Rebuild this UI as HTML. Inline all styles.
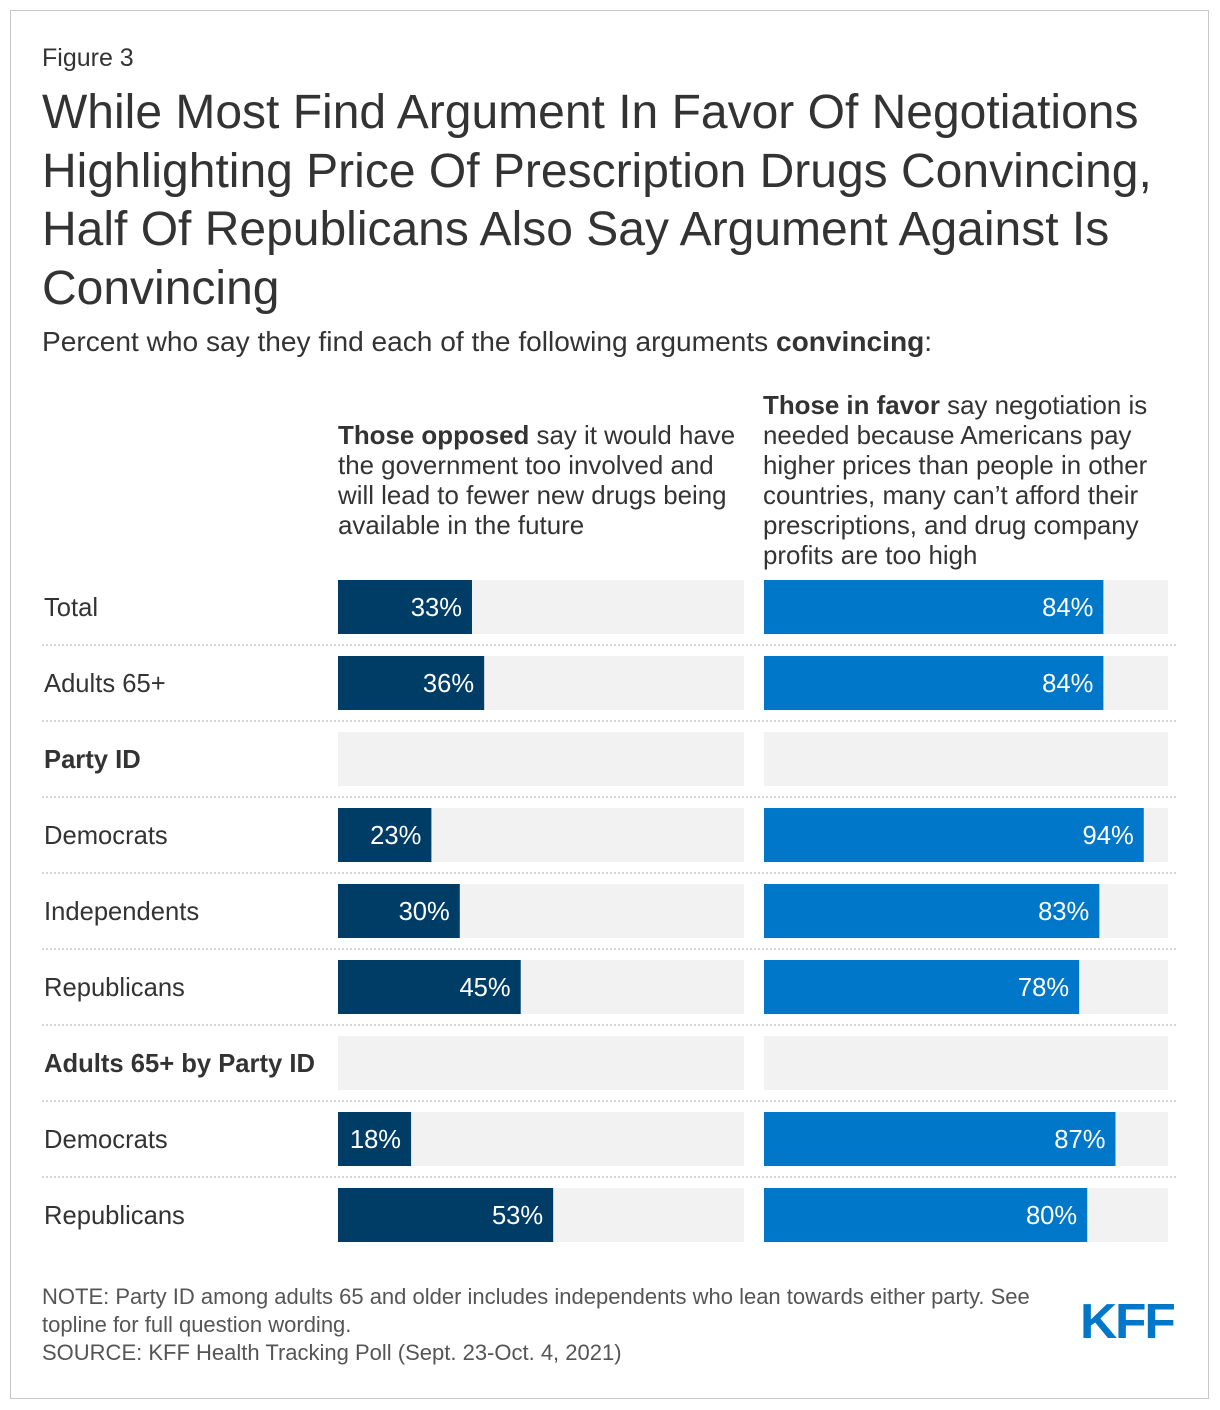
<!DOCTYPE html>
<html><head><meta charset="utf-8"><style>
body{margin:0;background:#fff;font-family:"Liberation Sans",Arial,sans-serif;}
#frame{position:absolute;left:10px;top:10px;width:1197px;height:1387px;border:1px solid #c8c8c8;}
.t{position:absolute;color:#333;white-space:nowrap;}
</style></head><body>
<div id="frame"></div>
<div class="t" style="left:42px;top:44px;font-size:25px;">Figure 3</div>
<div class="t" style="left:42px;top:84px;font-size:48px;line-height:58.5px;">While Most Find Argument In Favor Of Negotiations<br>Highlighting Price Of Prescription Drugs Convincing,<br>Half Of Republicans Also Say Argument Against Is<br>Convincing</div>
<div class="t" style="left:42px;top:326px;font-size:28.1px;">Percent who say they find each of the following arguments <b>convincing</b>:</div>
<div class="t" style="left:338px;top:421px;font-size:25.9px;line-height:30px;"><b>Those opposed</b> say it would have<br>the government too involved and<br>will lead to fewer new drugs being<br>available in the future</div>
<div class="t" style="left:763px;top:391px;font-size:25.9px;line-height:30px;"><b>Those in favor</b> say negotiation is<br>needed because Americans pay<br>higher prices than people in other<br>countries, many can’t afford their<br>prescriptions, and drug company<br>profits are too high</div>
<svg id="chart" width="1220" height="1410" style="position:absolute;left:0;top:0"></svg>
<div class="t" style="left:42px;top:1283px;font-size:22px;line-height:28px;color:#555;">NOTE: Party ID among adults 65 and older includes independents who lean towards either party. See<br>topline for full question wording.<br>SOURCE: KFF Health Tracking Poll (Sept. 23-Oct. 4, 2021)</div>
<div style="position:absolute;left:1080px;top:1294px;font-size:49px;font-weight:bold;color:#0077c8;letter-spacing:-2px;font-family:'Liberation Sans',sans-serif;transform:scaleX(1.05);transform-origin:left;">KFF</div>
<script>
const categories=["Total","Adults 65+","Party ID","Democrats","Independents","Republicans","Adults 65+ by Party ID","Democrats","Republicans"];
const headers=[false,false,true,false,false,false,true,false,false];
const opposed=[33,36,null,23,30,45,null,18,53];
const favor=[84,84,null,94,83,78,null,87,80];
const svg=document.getElementById('chart');
const NS='http://www.w3.org/2000/svg';
const L0=338,LW=406,R0=764,RW=404,top0=580,pitch=76,bh=54;
const xL=v=>v/100*LW, xR=v=>v/100*RW;
function mk(tag,a){const e=document.createElementNS(NS,tag);for(const k in a)e.setAttribute(k,a[k]);svg.appendChild(e);return e;}
categories.forEach((c,i)=>{
  const y=top0+i*pitch;
  const lab=mk('text',{x:44,y:y+bh/2+9,'font-size':25.6,fill:'#333','font-weight':headers[i]?'bold':'normal'});
  lab.textContent=c;
  
  
  [[L0,LW,opposed[i],xL,'#003d66','opposed'],[R0,RW,favor[i],xR,'#0077c8','favor']].forEach(([x0,w,v,sc,col,nm])=>{
    const bg=mk('rect',{x:x0,y:y,width:w,height:bh,fill:'#f2f2f2'});
    
    
    if(v!=null){
      const b=mk('rect',{x:x0,y:y,width:sc(v),height:bh,fill:col});
      
      
      const t=mk('text',{x:x0+sc(v)-10,y:y+bh/2+9,'font-size':25.6,fill:'#fff','text-anchor':'end'});
      t.textContent=v+'%';
      
      
    }
  });
  if(i<categories.length-1){
    const ln=mk('line',{x1:42,x2:1176,y1:y+bh+11,y2:y+bh+11,stroke:'#c8c8c8','stroke-width':1.5,'stroke-dasharray':'2,2'});
    
    
  }
});
</script>
</body></html>
